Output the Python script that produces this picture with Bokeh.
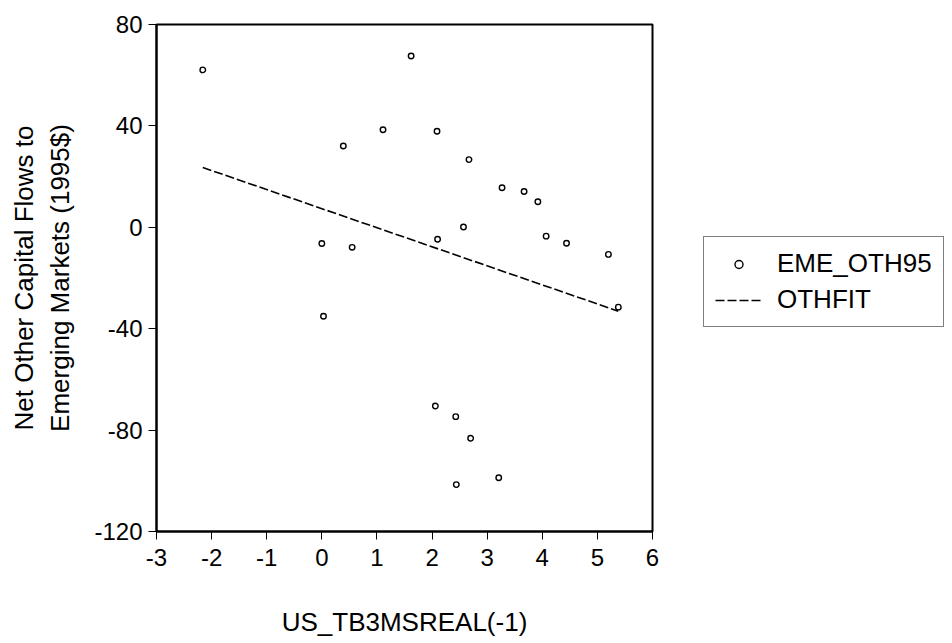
from bokeh.plotting import figure
from bokeh.models import Range1d, FixedTicker, Legend, LegendItem
from bokeh.embed import file_html
from bokeh.resources import INLINE

# EME_OTH95 scatter points (x = US_TB3MSREAL(-1), y = net other capital flows)
eme_x = [-2.16, 1.62, 0.39, 1.11, 2.09, 2.67, 3.27, 3.67, 3.92, 2.57, 2.10, 4.07,
         4.44, 5.20, 0.00, 0.55, 5.38, 0.03, 2.06, 2.43, 2.70, 3.21, 2.44]
eme_y = [62.1, 67.6, 32.1, 38.5, 37.9, 26.7, 15.6, 14.1, 10.1, 0.1, -4.7, -3.5,
         -6.3, -10.7, -6.4, -7.9, -31.5, -35.1, -70.5, -74.7, -83.2, -98.8, -101.5]

# OTHFIT fitted line endpoints
fit_x = [-2.16, 5.38]
fit_y = [23.6, -33.1]

x_ticks = [-3, -2, -1, 0, 1, 2, 3, 4, 5, 6]
y_ticks = [-120, -80, -40, 0, 40, 80]

FONT = "Liberation Sans"

p = figure(frame_width=496, frame_height=507, output_backend="svg", toolbar_location=None,
           x_range=Range1d(-3, 6), y_range=Range1d(-120, 80),
           min_border_left=156, min_border_right=300, min_border_top=24,
           min_border_bottom=112)
p.background_fill_color = "white"
p.border_fill_color = "white"
p.grid.visible = False
p.outline_line_color = "black"
p.outline_line_width = 2

r_fit = p.line(fit_x, fit_y, line_color="black", line_width=1.6, line_dash="9 3")
r_pts = p.scatter(eme_x, eme_y, marker="circle", size=5.5, fill_color=None,
                  line_color="black", line_width=1.4)

for ax in (p.xaxis[0], p.yaxis[0]):
    ax.axis_line_color = "black"
    ax.axis_line_width = 2
    ax.major_tick_line_color = "black"
    ax.major_tick_out = 8
    ax.major_tick_in = 0
    ax.minor_tick_line_color = None
    ax.major_label_text_font = FONT
    ax.major_label_text_font_size = "24px"
    ax.major_label_text_color = "black"
    ax.axis_label_text_font = FONT
    ax.axis_label_text_font_size = "26px"
    ax.axis_label_text_font_style = "normal"
    ax.axis_label_text_color = "black"

p.xaxis[0].ticker = FixedTicker(ticks=x_ticks)
p.yaxis[0].ticker = FixedTicker(ticks=y_ticks)
p.xaxis[0].major_label_overrides = {t: str(t) for t in x_ticks}
p.yaxis[0].major_label_overrides = {t: str(t) for t in y_ticks}
p.xaxis[0].axis_label = "US_TB3MSREAL(-1)"
p.yaxis[0].axis_label = "Net Other Capital Flows to\nEmerging Markets (1995$)"
p.xaxis[0].major_label_standoff = 9
p.yaxis[0].major_label_standoff = 6
p.xaxis[0].axis_label_standoff = 38
p.yaxis[0].axis_label_standoff = 16

legend = Legend(items=[LegendItem(label="EME_OTH95", renderers=[r_pts]),
                       LegendItem(label="OTHFIT", renderers=[r_fit])],
                location=(51, 204))
legend.label_text_font = FONT
legend.label_text_font_size = "26px"
legend.label_text_color = "black"
legend.border_line_color = "black"
legend.border_line_width = 1
legend.background_fill_color = "white"
legend.background_fill_alpha = 1
legend.glyph_width = 47
legend.label_standoff = 15
legend.padding = 11
legend.spacing = 5
legend.margin = 0
legend.label_height = 30
p.add_layout(legend, "right")

open("out.html", "w").write(file_html(p, INLINE))
